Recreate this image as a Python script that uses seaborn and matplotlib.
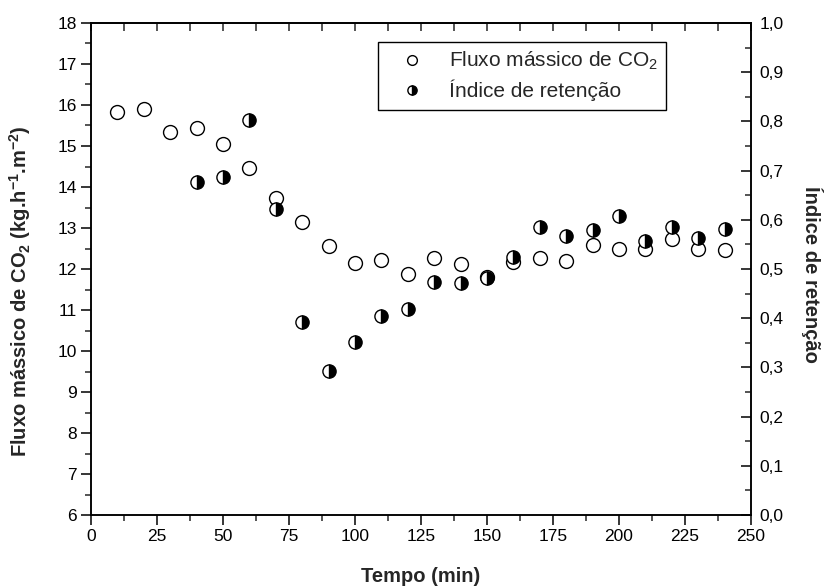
import numpy as np
import pandas as pd
import matplotlib
matplotlib.use('Agg')
import matplotlib.pyplot as plt
from matplotlib.ticker import MultipleLocator, FuncFormatter
import seaborn as sns

# ────────────────────────────────────────────────
# DATA
# ────────────────────────────────────────────────
tempo_fluxo = [10, 20, 30, 40, 50, 60, 70, 80, 90, 100, 110, 120, 130, 140,
               150, 160, 170, 180, 190, 200, 210, 220, 230, 240]
fluxo_co2 = [15.82, 15.90, 15.35, 15.43, 15.05, 14.47, 13.72, 13.15, 12.56,
             12.15, 12.22, 11.88, 12.26, 12.12, 11.80, 12.18, 12.28, 12.20,
             12.59, 12.48, 12.50, 12.72, 12.48, 12.46]

tempo_ret = [40, 50, 60, 70, 80, 90, 100, 110, 120, 130, 140, 150, 160, 170,
             180, 190, 200, 210, 220, 230, 240]
indice_ret = [0.676, 0.686, 0.803, 0.622, 0.393, 0.293, 0.351, 0.405, 0.419,
              0.474, 0.471, 0.482, 0.525, 0.586, 0.567, 0.579, 0.607, 0.556,
              0.585, 0.563, 0.582]

df_fluxo = pd.DataFrame({'tempo': tempo_fluxo, 'fluxo': fluxo_co2})
df_ret = pd.DataFrame({'tempo': tempo_ret, 'indice': indice_ret})

# ────────────────────────────────────────────────
# STYLE
# ────────────────────────────────────────────────
sns.set_theme(style='white')
plt.rcParams['font.family'] = ['Liberation Sans', 'DejaVu Sans']
plt.rcParams['mathtext.fontset'] = 'custom'
plt.rcParams['mathtext.rm'] = 'Liberation Sans'
plt.rcParams['mathtext.it'] = 'Liberation Sans:italic'
plt.rcParams['mathtext.bf'] = 'Liberation Sans:bold'
plt.rcParams['axes.linewidth'] = 1.1

fig = plt.figure(figsize=(8.29, 5.88), dpi=100)
ax = fig.add_axes([0.1098, 0.1241, 0.796, 0.8368])
ax2 = ax.twinx()

# ────────────────────────────────────────────────
# PLOT
# ────────────────────────────────────────────────
sns.lineplot(data=df_fluxo, x='tempo', y='fluxo', ax=ax, linestyle='',
             marker='o', markersize=10, markerfacecolor='white',
             markeredgecolor='black', markeredgewidth=1.0,
             errorbar=None, sort=False, legend=False,
             label='Fluxo mássico de CO$_2$')
sns.lineplot(data=df_ret, x='tempo', y='indice', ax=ax2, linestyle='',
             marker='o', markersize=9.5, fillstyle='right',
             markerfacecolor='black', markerfacecoloralt='white',
             markeredgecolor='black', markeredgewidth=1.0,
             errorbar=None, sort=False, legend=False,
             label='Índice de retenção')

ax.set_xlim(0, 250)
ax.set_ylim(6, 18)
ax2.set_ylim(0, 1.0)

ax.xaxis.set_major_locator(MultipleLocator(25))
ax.xaxis.set_minor_locator(MultipleLocator(12.5))
ax.yaxis.set_major_locator(MultipleLocator(1))
ax.yaxis.set_minor_locator(MultipleLocator(0.5))
ax2.yaxis.set_major_locator(MultipleLocator(0.1))
ax2.yaxis.set_minor_locator(MultipleLocator(0.05))
ax2.yaxis.set_major_formatter(FuncFormatter(lambda v, p: f'{v:.1f}'.replace('.', ',')))

ax.tick_params(axis='both', which='major', direction='out', length=7, width=1.1,
               labelsize=12.5, colors='black', pad=3)
ax.tick_params(axis='both', which='minor', direction='out', length=4, width=1.1)
ax.tick_params(axis='x', which='both', bottom=True, top=False)
ax.tick_params(axis='y', which='both', left=True, right=False)
ax2.tick_params(axis='y', which='major', direction='in', length=7, width=1.1,
                labelsize=12.5, colors='black', pad=6)
ax2.tick_params(axis='y', which='minor', direction='in', length=4, width=1.1)

top = ax.secondary_xaxis('top')
top.xaxis.set_major_locator(MultipleLocator(12.5))
top.tick_params(axis='x', which='major', direction='in', length=6, width=1.1,
                labeltop=False)
top.spines['top'].set_linewidth(1.1)

for a in (ax, ax2):
    for s in a.spines.values():
        s.set_color('black')
        s.set_linewidth(1.1)

ax.set_xlabel('Tempo (min)', fontsize=14.5, fontweight='bold', va='center')
ax.xaxis.set_label_coords(0.5, -0.124)
ax.set_ylabel('Fluxo mássico de CO$_\\mathbf{2}$ (kg.h$^\\mathbf{-1}$.m$^\\mathbf{-2}$)',
              fontsize=14.5, fontweight='bold', va='center')
ax.yaxis.set_label_coords(-0.108, 0.455)
ax2.set_ylabel('Índice de retenção', fontsize=14.5, fontweight='bold',
               rotation=270, va='center')
ax2.yaxis.set_label_coords(1.092, 0.488)

h1, l1 = ax.get_legend_handles_labels()
h2, l2 = ax2.get_legend_handles_labels()
leg = ax.legend(h1 + h2, l1 + l2, loc='upper left',
                bbox_to_anchor=(0.456, 0.929), bbox_transform=fig.transFigure,
                fontsize=15, frameon=True, fancybox=False, edgecolor='black',
                framealpha=1, borderpad=0.4, handlelength=2.5,
                handletextpad=0.5, labelspacing=0.35, borderaxespad=0,
                markerscale=0.7)
leg.get_frame().set_linewidth(1.0)

fig.savefig('out.png', dpi=100)
